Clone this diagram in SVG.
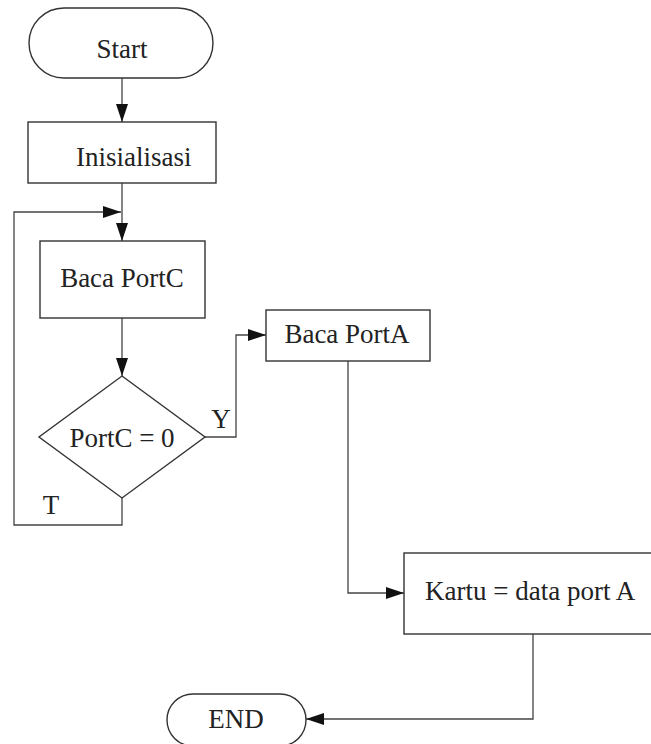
<svg xmlns="http://www.w3.org/2000/svg" width="651" height="744" viewBox="0 0 651 744">
<style>
.box{fill:#fff;stroke:#333;stroke-width:1.4}
.ln{fill:none;stroke:#444;stroke-width:1.3}
text{font-family:"Liberation Serif","Times New Roman",serif;font-size:27px;fill:#222}
</style>
<defs>
<marker id="ah" viewBox="0 0 18 12" refX="18" refY="6" markerWidth="18" markerHeight="12" markerUnits="userSpaceOnUse" orient="auto">
<path d="M0,0 L18,6 L0,12 Z" fill="#111"/>
</marker>
</defs>
<rect width="651" height="744" fill="#fff"/>
<g id="connectors">
<path class="ln" d="M122,78 V122" marker-end="url(#ah)"/>
<path class="ln" d="M122,183 V241" marker-end="url(#ah)"/>
<path class="ln" d="M122,498 V525 H14 V212 H121" marker-end="url(#ah)"/>
<path class="ln" d="M122,318 V376" marker-end="url(#ah)"/>
<path class="ln" d="M205,437 H236 V335 H266" marker-end="url(#ah)"/>
<path class="ln" d="M348,361 V593 H404" marker-end="url(#ah)"/>
<path class="ln" d="M533,634 V719 H306" marker-end="url(#ah)"/>
<text x="221" y="428" text-anchor="middle">Y</text>
<text x="51" y="514" text-anchor="middle">T</text>
</g>
<g id="start">
<rect class="box" x="29" y="8" width="184" height="70" rx="35" ry="35"/>
<text x="122" y="58" text-anchor="middle">Start</text>
</g>
<g id="inisialisasi">
<rect class="box" x="28" y="122" width="188" height="61"/>
<text x="76" y="166">Inisialisasi</text>
</g>
<g id="baca-portc">
<rect class="box" x="40" y="241" width="165" height="77"/>
<text x="122" y="287" text-anchor="middle">Baca PortC</text>
</g>
<g id="decision">
<polygon class="box" points="122,376 205,437 122,498 39,437"/>
<text x="122" y="447" text-anchor="middle">PortC = 0</text>
</g>
<g id="baca-porta">
<rect class="box" x="266" y="310" width="164" height="51"/>
<text x="347" y="343" text-anchor="middle">Baca PortA</text>
</g>
<g id="kartu">
<rect class="box" x="404" y="553" width="260" height="81"/>
<text x="425" y="600">Kartu = data port A</text>
</g>
<g id="end">
<rect class="box" x="167" y="694" width="139" height="52" rx="26" ry="26"/>
<text x="236" y="728" text-anchor="middle">END</text>
</g>
</svg>
